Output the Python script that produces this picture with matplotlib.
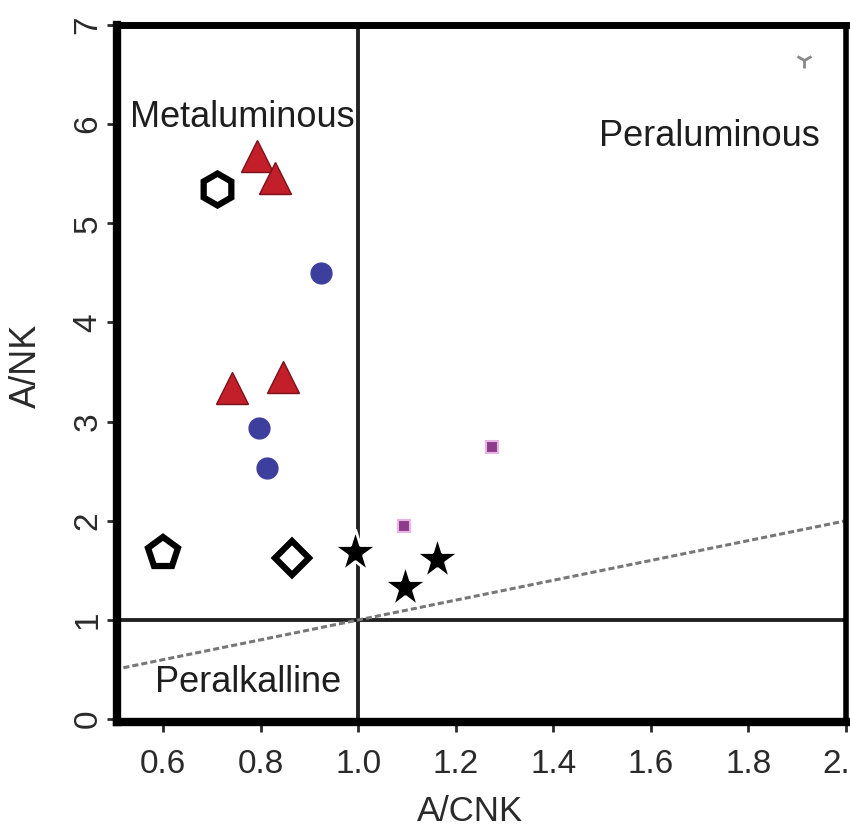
import numpy as np
import matplotlib
matplotlib.use("Agg")
import matplotlib.pyplot as plt

plt.rcParams['font.family'] = ['Liberation Sans', 'DejaVu Sans']

# sample groups (A/CNK, A/NK)
hex_x = [0.711]
hex_y = [5.35]
tri_x = [0.793, 0.83, 0.742, 0.846]
tri_y = [5.68, 5.46, 3.34, 3.45]
circ_x = [0.924, 0.797, 0.813]
circ_y = [4.50, 2.94, 2.53]
sq_x = [1.275, 1.094]
sq_y = [2.74, 1.95]
pent_x = [0.60]
pent_y = [1.68]
diam_x = [0.865]
diam_y = [1.63]
star_x = [0.994, 1.096, 1.162]
star_y = [1.69, 1.33, 1.61]
mark_x = [1.915]
mark_y = [6.65]

xticks = [0.6, 0.8, 1.0, 1.2, 1.4, 1.6, 1.8, 2.0]
yticks = [0, 1, 2, 3, 4, 5, 6, 7]

fig = plt.figure(figsize=(8.5, 8.31), dpi=100)
ax = fig.add_axes([0.138, 0.131, 0.857, 0.839])

ax.axvline(1.0, color='#222222', lw=2.8, zorder=1)
ax.axhline(1.0, color='#222222', lw=2.8, zorder=1)
lx = np.array([0.5, 2.05])
ax.plot(lx, lx, color='#777777', lw=2.2, ls=(0, (2, 1)), zorder=1)

ax.plot(hex_x, hex_y, 'h', ms=23, mfc='white', mec='black', mew=4.5, zorder=3)
ax.plot(pent_x, pent_y, 'p', ms=23, mfc='white', mec='black', mew=4.5, zorder=3)
ax.plot(diam_x, diam_y, 'D', ms=17, mfc='white', mec='black', mew=4.5, zorder=3)
ax.plot(tri_x, tri_y, '^', ms=23, mfc='#c21f2b', mec='#7a1018', mew=1, zorder=3)
ax.plot(circ_x, circ_y, 'o', ms=15, mfc='#3d3f9e', mec='#3d3f9e', zorder=3)
ax.plot(sq_x, sq_y, 's', ms=8, mfc='#8e3b8c', mec='#e8b4e6', mew=1.5, zorder=3)
ax.plot(star_x, star_y, '*', ms=33, mfc='black', mec='white', mew=2, zorder=4)
ax.plot(mark_x, mark_y, '1', ms=12, color='#888888', mew=2, zorder=3)

ax.text(0.762, 6.07, 'Metaluminous', fontsize=26, color='#1e1e1e',
        ha='center', va='center', zorder=5,
        bbox=dict(facecolor='white', edgecolor='none', pad=1))
ax.text(1.72, 5.87, 'Peraluminous', fontsize=26, color='#1e1e1e',
        ha='center', va='center', zorder=5)
ax.text(0.775, 0.37, 'Peralkalline', fontsize=26, color='#1e1e1e',
        ha='center', va='center', zorder=5)

ax.set_xlim(0.506, 2.0)
ax.set_ylim(-0.03, 7.0)
ax.set_xticks(xticks)
ax.set_xticklabels(['0.6', '0.8', '1.0', '1.2', '1.4', '1.6', '1.8', '2.0'])
ax.set_yticks(yticks)
ax.set_yticklabels([str(v) for v in yticks], rotation=90, va='center')
ax.tick_params(axis='both', direction='out', length=7, width=2,
               labelsize=24, colors='#2a2a2a')
ax.tick_params(axis='x', pad=12)
ax.tick_params(axis='y', pad=3)

for side, w in [('left', 6), ('bottom', 6), ('top', 5), ('right', 4)]:
    ax.spines[side].set_linewidth(w)
    ax.spines[side].set_color('black')

ax.set_xlabel('A/CNK', fontsize=25, color='#2a2a2a')
ax.xaxis.set_label_coords(0.484, -0.104)
ax.set_ylabel('A/NK', fontsize=26, color='#2a2a2a')
ax.yaxis.set_label_coords(-0.101, 0.511)

fig.savefig('out.png', dpi=100)
